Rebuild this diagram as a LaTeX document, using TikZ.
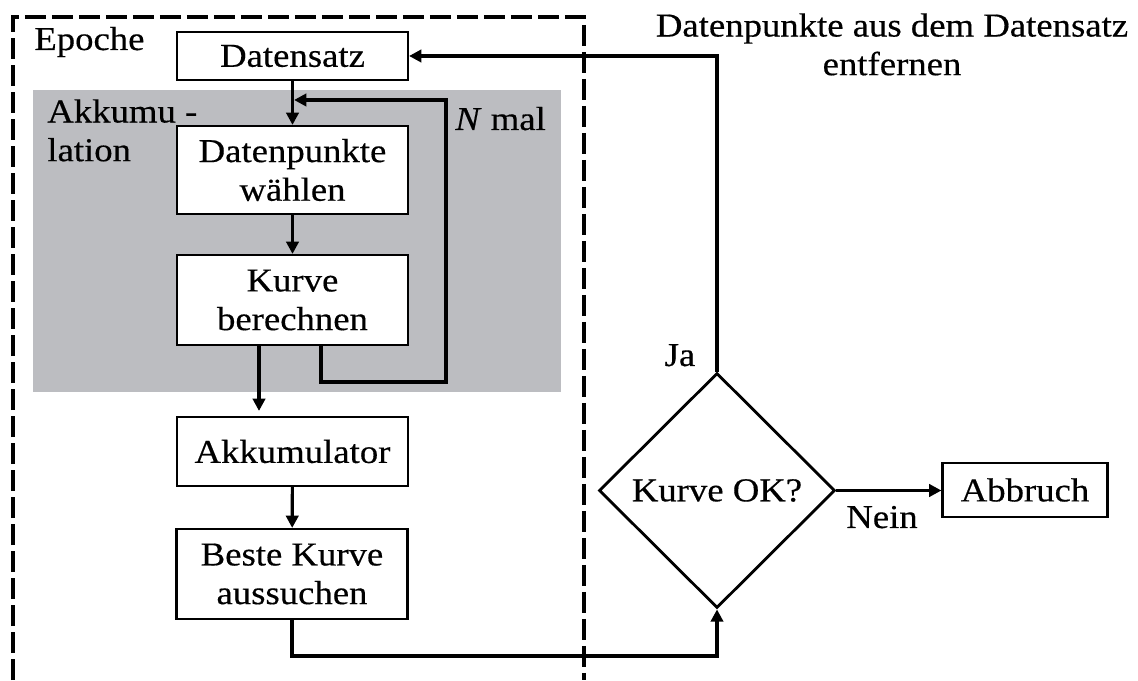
\documentclass[tikz,border=0pt]{standalone}
\usepackage{fontspec}
\setmainfont{Liberation Serif}[FakeStretch=1.1,FakeBold=0.4]
\usetikzlibrary{arrows.meta,shapes.geometric}
\definecolor{akkgray}{RGB}{188,189,193}
\begin{document}
\begin{tikzpicture}[x=1cm,y=1cm,every node/.style={font=\fontsize{19pt}{22pt}\selectfont},
  stepbox/.style={draw,rectangle,line width=1.2pt,fill=white,minimum width=4.62cm,align=center,inner sep=0pt},
  flow/.style={line width=1.8pt,-{Triangle[length=7pt,width=7pt]}},
  txt/.style={inner sep=0pt}]
\useasboundingbox (0,0) rectangle (22.76,13.6);
% Akkumulation und Epoche
\fill[akkgray] (0.66,5.76) rectangle (11.22,11.8);
\draw[line width=2.2pt,dash pattern=on 0.42cm off 0.12cm] (0.26,0) |- (11.68,13.26) -- (11.68,0);
\node[txt,anchor=base west] (ep) at (0.68,12.6) {Epoche};
\node[txt,anchor=north west,align=left] (akl) at (0.94,11.62) {Akkumu -\\lation};
\node[txt,anchor=base west] (nm) at (9.1,11.0) {\textit{N} mal};
% Schritte
\node[stepbox,minimum height=9.6mm] (ds) at (5.85,12.48) {Datensatz};
\node[stepbox,minimum height=17.6mm] (dp) at (5.85,10.2) {Datenpunkte\\wählen};
\node[stepbox,minimum height=18mm] (kb) at (5.85,7.6) {Kurve\\berechnen};
\node[stepbox,minimum height=13.8mm] (akk) at (5.85,4.57) {Akkumulator};
\node[stepbox,minimum height=18mm] (bk) at (5.84,2.12) {Beste Kurve\\aussuchen};
\node[draw,diamond,line width=1.6pt,minimum width=4.72cm,minimum height=4.7cm,inner sep=0pt] (ok) at (14.34,3.79) {Kurve OK?};
\node[stepbox,minimum width=3.3cm,minimum height=10.8mm] (ab) at (20.5,3.8) {Abbruch};
\node[txt,anchor=north,align=center] (rm) at (17.84,13.34) {Datenpunkte aus dem Datensatz\\entfernen};
\node[txt,anchor=base] (ja) at (13.6,6.28) {Ja};
\node[txt,anchor=base] (nein) at (17.64,3.04) {Nein};
% Hilfspunkte
\coordinate (join) at (5.85,11.6);
\coordinate (loopc) at (8.92,5.96);
\coordinate (low) at (0,0.48);
% Verbindungen
\draw[flow] (ds) -- (dp);
\draw[flow] (dp) -- (kb);
\draw[flow,shorten >=0.9pt] ([xshift=5.7mm]kb.south) |- (loopc) |- (join);
\draw[flow,shorten >=0.1cm] ([xshift=-6.7mm]kb.south) -- ([xshift=-6.7mm]akk.north);
\draw[flow] (akk) -- (bk);
\draw[flow] (bk.south) -- (bk.south |- low) -| (ok.south);
\draw[flow] (ok.north) |- (ds.east);
\draw[flow] (ok.east) -- (ok.east -| ab.west);
\end{tikzpicture}
\end{document}
